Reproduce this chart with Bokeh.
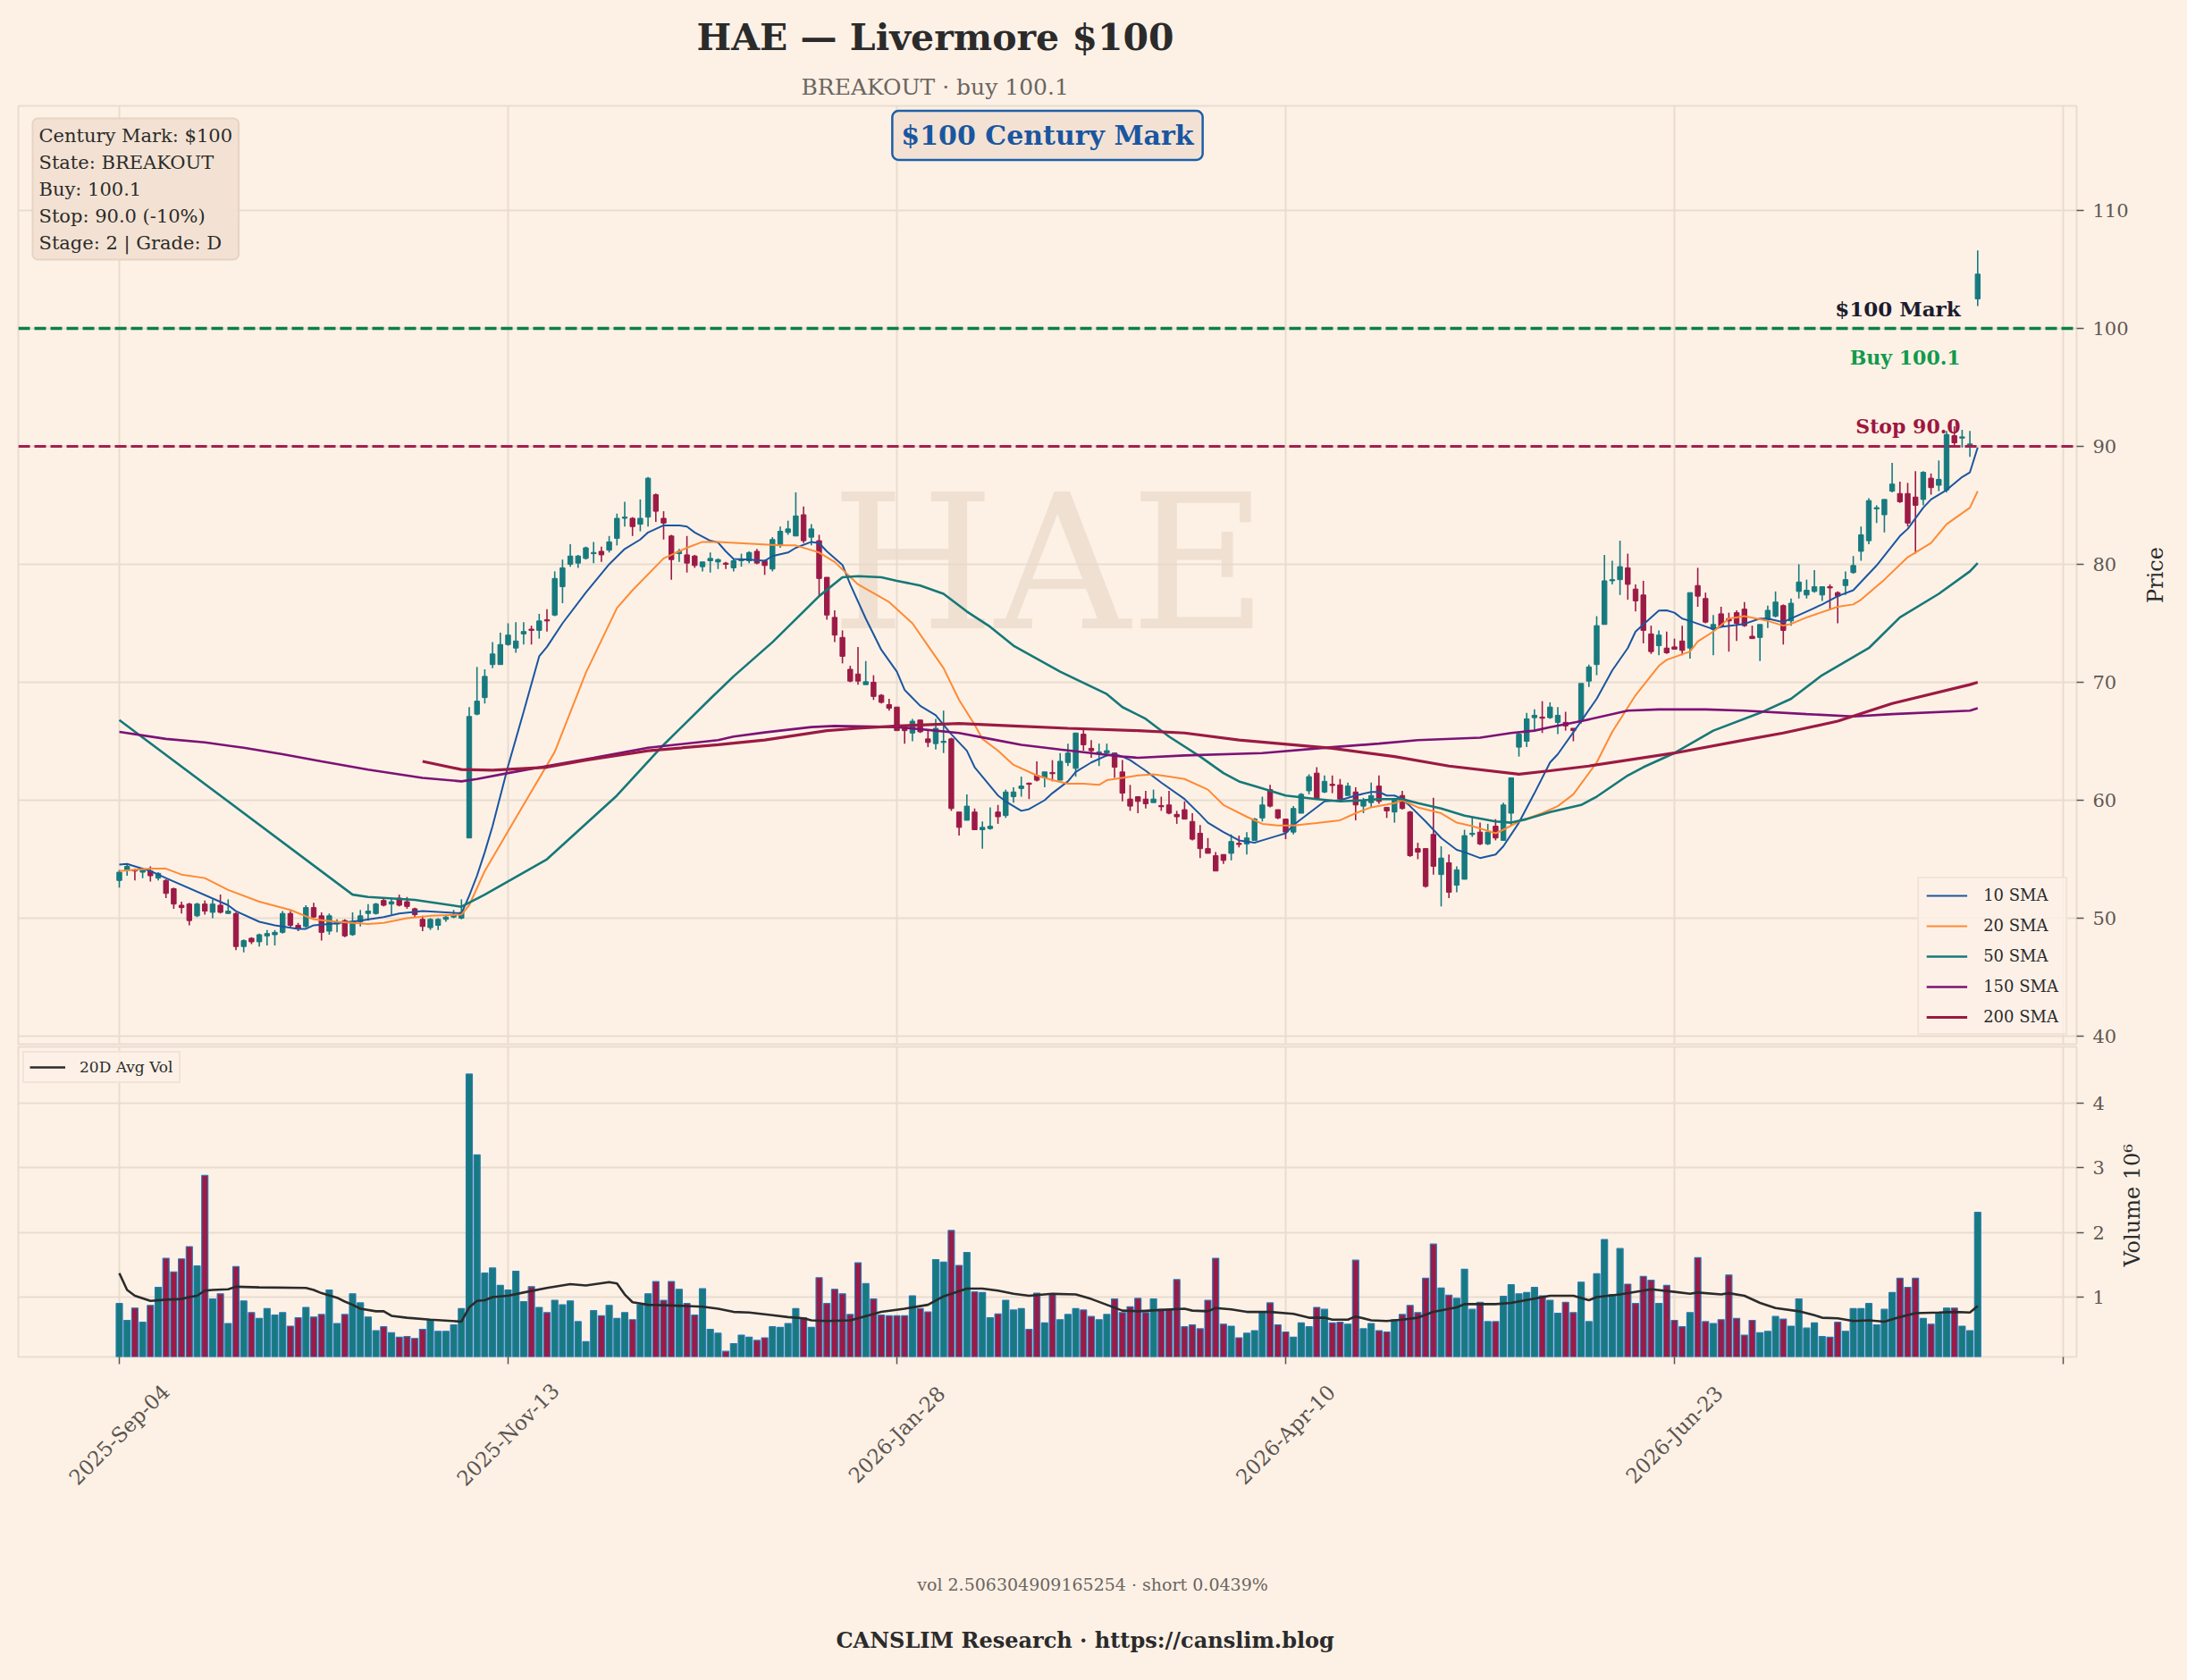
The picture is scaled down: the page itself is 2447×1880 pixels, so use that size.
import math
from bokeh.plotting import figure
from bokeh.models import (Range1d, FixedTicker, Grid, Legend, LegendItem, Label, Title,
                          ColumnDataSource, Span)
from bokeh.layouts import column, row
from bokeh.embed import file_html
from bokeh.resources import INLINE
from bokeh.core.properties import value

# ---------------- data ----------------
opens = [
    53.2, 54.1, 54.1, 53.9, 54.0, 53.4, 53.2, 52.5, 51.1, 51.2,
    50.2, 51.2, 50.5, 51.1, 50.4, 50.4, 47.6, 48.3, 48.0, 48.5,
    48.6, 48.8, 50.4, 49.4, 49.3, 50.9, 50.2, 48.9, 49.5, 49.8,
    48.6, 49.7, 50.4, 50.4, 51.5, 51.2, 51.7, 51.4, 50.8, 49.9,
    49.2, 49.4, 49.9, 50.1, 50.0, 56.8, 67.3, 68.7, 71.5, 71.5,
    73.2, 72.9, 74.1, 74.5, 74.4, 75.3, 75.7, 78.1, 80.0, 80.1,
    80.5, 80.9, 81.1, 81.2, 82.2, 83.9, 83.9, 83.4, 84.0, 85.9,
    83.9, 82.4, 80.9, 80.8, 80.7, 79.8, 80.3, 80.2, 80.1, 79.7,
    80.3, 80.3, 81.1, 80.3, 79.6, 81.6, 82.7, 82.4, 84.2, 82.3,
    82.0, 78.9, 75.5, 73.8, 71.1, 70.7, 69.8, 70.0, 68.9, 68.1,
    67.9, 66.3, 65.7, 66.8, 65.2, 64.8, 64.9, 65.2, 59.0, 58.3,
    59.0, 57.5, 57.6, 59.0, 58.7, 60.3, 61.0, 61.45, 62.1, 61.9,
    62.35, 61.7, 63.2, 62.7, 65.6, 64.4, 64.0, 64.0, 64.0, 62.4,
    60.1, 60.3, 60.1, 59.8, 59.55, 59.6, 58.8, 59.2, 58.2, 57.2,
    55.9, 55.3, 55.4, 55.5, 56.35, 56.3, 56.6, 58.5, 60.9, 59.2,
    58.4, 57.3, 58.9, 60.8, 62.3, 60.7, 61.35, 61.3, 60.4, 60.7,
    59.5, 59.8, 61.2, 59.4, 59.0, 60.4, 59.0, 55.9, 55.9, 57.1,
    53.7, 54.7, 52.8, 53.3, 57.1, 57.3, 56.3, 57.8, 56.6, 58.9,
    64.5, 65.0, 67.0, 67.05, 67.0, 66.6, 66.6, 66.1, 66.7, 70.1,
    71.5, 74.9, 78.6, 78.7, 79.7, 77.9, 77.4, 74.1, 73.1, 72.9,
    73.0, 73.5, 72.9, 78.2, 77.1, 74.5, 75.8, 75.4, 75.9, 76.2,
    73.9, 73.8, 75.3, 75.6, 76.5, 75.2, 77.7, 77.4, 77.7, 77.4,
    78.1, 77.6, 78.2, 79.3, 81.1, 82.0, 84.7, 84.2, 86.2, 86.0,
    86.0, 85.7, 85.5, 87.3, 86.7, 86.3, 90.9, 90.7, 90.0, 102.5,
]
closes = [
    53.9, 54.4, 54.0, 54.1, 53.6, 53.8, 52.1, 51.2, 50.9, 49.8,
    51.2, 50.6, 51.2, 50.5, 50.6, 47.6, 48.1, 48.0, 48.6, 48.7,
    48.8, 50.4, 49.4, 49.1, 50.9, 50.1, 48.8, 50.2, 49.7, 48.5,
    49.7, 50.2, 50.6, 51.2, 51.1, 51.4, 51.1, 51.0, 50.3, 49.3,
    49.9, 49.9, 50.1, 50.3, 50.5, 67.1, 68.4, 70.5, 72.4, 73.2,
    74.0, 73.5, 74.3, 74.4, 75.2, 75.2, 78.8, 79.7, 80.7, 80.7,
    81.4, 81.0, 80.8, 81.9, 83.9, 84.0, 83.2, 83.9, 87.3, 84.5,
    83.5, 80.4, 81.1, 80.1, 79.9, 80.2, 80.5, 80.4, 80.0, 80.3,
    80.4, 81.0, 80.1, 79.9, 82.1, 82.8, 83.0, 84.1, 82.0, 83.0,
    78.8, 75.7, 74.0, 72.2, 70.1, 70.1, 70.05, 68.8, 68.3, 67.8,
    65.9, 65.9, 66.7, 65.8, 64.9, 66.1, 65.0, 59.3, 57.7, 59.5,
    57.5, 57.7, 57.8, 58.6, 60.7, 60.7, 61.2, 61.35, 61.7, 62.4,
    62.25, 63.3, 64.0, 65.7, 64.7, 64.2, 64.1, 64.2, 62.8, 60.6,
    59.5, 59.9, 59.7, 60.1, 59.45, 58.9, 58.6, 58.4, 56.7, 55.9,
    55.5, 54.0, 54.9, 56.5, 56.25, 56.8, 58.4, 59.6, 59.5, 58.5,
    57.3, 59.3, 60.5, 62.0, 60.1, 61.6, 61.25, 60.1, 61.2, 59.6,
    60.0, 60.4, 59.9, 59.1, 60.0, 59.3, 55.3, 55.6, 52.7, 54.4,
    55.1, 52.2, 54.1, 57.0, 57.2, 56.3, 57.3, 56.8, 59.6, 61.9,
    65.6, 66.9, 67.2, 66.95, 67.9, 67.2, 66.3, 65.9, 69.9, 71.3,
    74.8, 78.6, 78.7, 79.8, 78.3, 76.9, 74.4, 72.6, 74.0, 72.5,
    72.8, 72.7, 77.6, 77.3, 75.1, 74.9, 74.7, 75.2, 75.0, 74.8,
    73.7, 74.9, 76.1, 76.8, 74.4, 76.7, 78.5, 77.8, 78.1, 78.1,
    78.0, 77.3, 78.7, 79.9, 82.5, 85.4, 84.8, 85.5, 86.8, 85.3,
    83.5, 85.0, 87.8, 86.5, 87.2, 91.0, 90.3, 90.8, 90.2, 104.6,
]
highs = [
    54.1, 54.5, 54.2, 54.2, 54.4, 53.9, 53.3, 52.6, 51.4, 51.3,
    51.3, 51.5, 51.6, 52.0, 51.6, 50.5, 48.2, 48.4, 48.7, 49.0,
    49.0, 50.6, 50.6, 49.6, 51.1, 51.3, 50.5, 50.4, 49.9, 49.9,
    50.5, 50.7, 51.2, 51.3, 51.7, 51.7, 52.0, 51.8, 50.9, 50.2,
    50.0, 50.0, 50.3, 50.7, 51.6, 67.9, 71.3, 71.1, 73.4, 74.2,
    75.0, 75.1, 75.1, 74.8, 75.8, 76.2, 79.4, 80.4, 81.7, 80.8,
    81.5, 81.9, 81.5, 82.4, 84.3, 85.3, 84.0, 85.5, 87.4, 86.0,
    84.5, 82.5, 81.3, 82.4, 80.8, 80.2, 81.0, 80.5, 80.2, 80.5,
    80.9, 81.1, 81.3, 80.4, 82.3, 83.2, 83.7, 86.1, 84.9, 83.4,
    82.5, 78.9, 76.1, 74.4, 71.4, 73.0, 71.8, 70.6, 69.0, 68.6,
    67.9, 66.3, 66.9, 66.8, 65.9, 66.9, 67.6, 65.3, 59.0, 60.5,
    59.3, 58.2, 59.4, 59.6, 60.9, 61.1, 62.0, 61.5, 63.3, 62.4,
    63.4, 64.0, 64.8, 65.7, 66.1, 65.1, 64.8, 64.8, 64.0, 63.4,
    61.3, 60.3, 60.8, 60.9, 60.3, 60.8, 59.1, 59.9, 58.9, 57.9,
    56.8, 55.6, 55.4, 57.1, 57.0, 57.3, 58.5, 60.3, 61.3, 59.2,
    58.4, 59.5, 60.6, 62.2, 62.8, 62.1, 62.1, 61.8, 61.5, 61.1,
    60.2, 61.5, 62.1, 59.4, 60.2, 60.8, 59.1, 56.4, 55.9, 60.2,
    56.1, 55.4, 54.4, 57.5, 58.6, 58.1, 58.0, 58.4, 59.8, 61.9,
    65.8, 67.4, 67.7, 68.4, 68.3, 67.9, 67.5, 66.1, 69.9, 71.5,
    75.6, 80.8, 80.3, 82.0, 80.9, 78.3, 78.6, 74.8, 74.4, 74.3,
    73.7, 74.8, 77.6, 79.7, 77.6, 75.7, 76.4, 75.9, 76.1, 76.8,
    74.8, 74.9, 76.5, 77.7, 76.6, 77.1, 80.0, 78.7, 79.5, 78.1,
    78.3, 77.7, 79.4, 80.7, 83.2, 85.6, 85.0, 85.5, 88.6, 87.0,
    86.9, 87.9, 87.9, 87.7, 88.8, 91.3, 91.7, 91.4, 91.3, 106.6,
]
lows = [
    52.6, 53.6, 53.2, 53.4, 53.1, 53.2, 51.7, 50.8, 50.4, 49.4,
    50.1, 50.3, 50.0, 50.4, 50.4, 47.3, 47.1, 47.8, 47.6, 47.7,
    47.7, 48.7, 49.2, 48.9, 49.2, 50.0, 48.1, 48.6, 48.8, 48.4,
    48.5, 49.3, 49.8, 50.3, 51.0, 50.3, 51.0, 50.8, 50.1, 48.9,
    49.0, 49.0, 49.7, 50.0, 49.9, 56.8, 67.2, 68.2, 71.2, 71.5,
    73.1, 72.5, 73.2, 73.2, 73.7, 74.3, 75.6, 76.7, 79.8, 79.7,
    80.4, 80.1, 80.2, 81.0, 81.6, 83.2, 82.4, 82.8, 83.2, 83.6,
    82.1, 78.7, 80.2, 79.3, 79.7, 79.4, 79.3, 79.6, 79.6, 79.4,
    79.8, 80.1, 80.0, 79.1, 79.4, 81.4, 82.5, 82.4, 81.8, 81.6,
    77.3, 75.3, 73.4, 71.6, 70.0, 69.8, 69.8, 68.5, 68.2, 67.6,
    65.9, 64.8, 65.0, 65.7, 64.5, 64.3, 64.0, 59.1, 57.0, 58.3,
    57.5, 55.9, 57.5, 58.0, 58.5, 59.8, 60.3, 60.1, 61.6, 61.1,
    61.6, 61.7, 62.9, 62.0, 64.2, 63.6, 62.9, 63.7, 61.9, 59.9,
    59.1, 58.9, 59.3, 59.8, 59.1, 58.8, 58.0, 58.4, 56.6, 55.1,
    55.5, 54.0, 54.6, 54.9, 56.0, 55.4, 56.6, 58.2, 59.4, 58.4,
    56.7, 57.1, 58.9, 60.5, 60.1, 60.6, 60.6, 60.1, 60.4, 58.3,
    58.9, 59.4, 59.7, 58.5, 58.1, 59.2, 55.2, 55.0, 52.6, 53.7,
    51.0, 51.7, 52.2, 53.3, 56.9, 56.2, 56.2, 56.6, 56.6, 57.9,
    63.7, 64.5, 65.9, 65.7, 66.9, 65.6, 65.9, 65.0, 66.5, 69.6,
    70.6, 74.9, 78.3, 77.4, 77.0, 76.0, 73.3, 72.4, 72.3, 72.4,
    72.8, 72.3, 72.0, 76.4, 75.0, 72.3, 74.7, 72.6, 73.5, 74.7,
    73.7, 71.8, 74.6, 75.5, 73.2, 74.8, 77.1, 77.1, 77.6, 76.9,
    76.1, 75.0, 77.4, 79.2, 80.3, 81.7, 83.5, 82.7, 86.1, 85.2,
    83.2, 80.9, 85.0, 85.9, 86.2, 86.1, 90.0, 89.9, 89.1, 101.9,
]
# volume in millions of shares
volumes = [
    0.90, 0.64, 0.83, 0.61, 0.87, 1.15, 1.60, 1.39, 1.59, 1.78,
    1.48, 2.88, 0.97, 1.05, 0.59, 1.47, 0.94, 0.76, 0.67, 0.82,
    0.72, 0.76, 0.55, 0.68, 0.84, 0.69, 0.73, 1.11, 0.59, 0.73,
    1.05, 0.91, 0.69, 0.48, 0.54, 0.45, 0.38, 0.39, 0.36, 0.50,
    0.65, 0.47, 0.47, 0.57, 0.82, 4.45, 3.20, 1.37, 1.45, 1.18,
    1.11, 1.40, 0.93, 1.16, 0.84, 0.76, 0.95, 0.88, 0.94, 0.62,
    0.31, 0.79, 0.71, 0.87, 0.67, 0.76, 0.65, 0.88, 1.05, 1.24,
    0.95, 1.24, 1.12, 0.90, 0.72, 1.13, 0.50, 0.44, 0.16, 0.28,
    0.41, 0.38, 0.33, 0.37, 0.54, 0.53, 0.59, 0.82, 0.68, 0.53,
    1.30, 0.90, 1.12, 1.05, 0.73, 1.53, 1.21, 0.97, 0.72, 0.71,
    0.71, 0.71, 1.02, 0.82, 0.77, 1.58, 1.54, 2.03, 1.49, 1.69,
    1.08, 1.07, 0.68, 0.74, 0.95, 0.80, 0.82, 0.50, 1.06, 0.60,
    1.04, 0.65, 0.73, 0.82, 0.80, 0.70, 0.65, 0.73, 0.97, 0.76,
    0.85, 0.98, 0.76, 0.97, 0.81, 0.81, 1.27, 0.54, 0.57, 0.51,
    0.95, 1.60, 0.58, 0.55, 0.37, 0.44, 0.48, 0.76, 0.91, 0.57,
    0.46, 0.38, 0.60, 0.54, 0.84, 0.81, 0.60, 0.61, 0.58, 1.57,
    0.51, 0.59, 0.48, 0.46, 0.65, 0.73, 0.87, 0.76, 1.29, 1.82,
    1.14, 1.03, 0.98, 1.43, 0.81, 0.92, 0.62, 0.62, 1.01, 1.19,
    1.05, 1.07, 1.15, 1.02, 0.95, 0.75, 0.92, 0.76, 1.23, 0.62,
    1.36, 1.89, 1.04, 1.75, 1.20, 0.90, 1.32, 1.26, 0.90, 1.18,
    0.64, 0.54, 0.76, 1.61, 0.62, 0.59, 0.65, 1.34, 0.67, 0.41,
    0.64, 0.45, 0.47, 0.70, 0.66, 0.55, 0.97, 0.52, 0.60, 0.39,
    0.38, 0.61, 0.47, 0.82, 0.82, 0.90, 0.57, 0.81, 1.07, 1.29,
    1.15, 1.29, 0.67, 0.58, 0.76, 0.83, 0.83, 0.55, 0.48, 2.31,
]

# moving averages (bar index, value)
sma10_idx = [0, 1, 2, 4, 6, 14, 15, 18, 20, 23, 24, 25, 27, 31, 34, 36, 39, 42, 44, 45,
             46, 47, 48, 50, 52, 54, 55, 57, 60, 63, 65, 67, 68, 70, 72, 73, 74, 76, 77, 78,
             79, 81, 83, 84, 86, 87, 89, 90, 91, 93, 94, 96, 98, 100, 101, 103, 105, 106, 107, 109,
             110, 113, 114, 116, 117, 119, 120, 122, 123, 125, 127, 128, 129, 130, 132, 134, 137, 139, 140, 142,
             144, 146, 147, 149, 150, 151, 153, 155, 157, 159, 161, 162, 163, 164, 165, 166, 168, 170, 172, 173,
             175, 177, 178, 180, 182, 184, 185, 188, 190, 192, 194, 195, 197, 198, 199, 200, 201, 202, 205, 206,
             209, 211, 212, 214, 215, 217, 219, 221, 223, 224, 226, 229, 230, 232, 233, 235, 237, 238, 239]
sma10_val = [54.55, 54.6, 54.4, 54.0, 53.4, 51.1, 50.6, 49.7, 49.4, 49.1, 49.1, 49.4, 49.5, 49.8, 50.1, 50.4, 50.6, 50.5, 50.4, 51.9,
             53.6, 55.6, 57.8, 62.9, 67.5, 72.2, 73.0, 75.0, 77.6, 80.0, 81.3, 82.1, 82.7, 83.3, 83.3, 83.2, 82.7, 82.0, 81.85, 81.1,
             80.45, 80.4, 80.3, 80.7, 81.0, 81.4, 81.9, 81.8, 81.1, 79.95, 78.3, 75.4, 72.75, 70.9, 69.35, 68.0, 67.2, 66.4, 65.6, 64.2,
             62.8, 60.4, 59.9, 59.1, 59.25, 60.0, 60.6, 61.6, 62.4, 63.2, 63.8, 63.9, 63.7, 63.4, 62.5, 61.5, 60.1, 58.8, 58.1, 57.3,
             56.6, 56.4, 56.6, 57.0, 57.2, 57.9, 58.9, 59.9, 60.0, 60.4, 60.7, 60.7, 60.4, 60.4, 60.1, 59.5, 58.2, 56.8, 55.8, 55.6,
             55.1, 55.4, 56.1, 58.1, 60.6, 63.2, 63.9, 66.7, 68.6, 71.0, 72.9, 74.3, 75.5, 76.07, 76.1, 75.9, 75.4, 75.2, 74.5, 74.7,
             74.95, 75.4, 75.4, 75.1, 75.4, 76.0, 76.6, 77.3, 77.8, 78.5, 79.9, 82.4, 83.0, 84.8, 85.5, 86.3, 87.4, 87.8, 89.9]
sma20_idx = [0, 4, 6, 8, 11, 14, 18, 22, 25, 28, 32, 34, 37, 40, 44, 45, 47, 51, 56, 60,
             64, 66, 70, 73, 75, 77, 85, 87, 89, 90, 92, 95, 99, 102, 104, 106, 108, 110, 111, 113,
             115, 118, 120, 122, 124, 126, 127, 128, 131, 133, 135, 137, 140, 142, 145, 147, 149, 151, 154, 157,
             159, 161, 164, 165, 167, 170, 172, 174, 176, 177, 178, 180, 183, 185, 187, 190, 192, 195, 198, 199,
             202, 203, 205, 207, 209, 212, 214, 215, 217, 221, 223, 224, 227, 230, 233, 235, 238, 239]
sma20_val = [54.0, 54.2, 54.2, 53.7, 53.4, 52.4, 51.4, 50.7, 49.9, 49.7, 49.5, 49.6, 50.0, 50.2, 50.3, 51.1, 54.0, 58.5, 64.1, 70.8,
             76.3, 77.8, 80.5, 81.4, 81.9, 81.9, 81.6, 81.6, 81.2, 81.0, 80.2, 78.3, 76.8, 75.0, 73.1, 71.2, 68.5, 66.4, 65.2, 64.2,
             63.0, 62.1, 61.7, 61.4, 61.4, 61.3, 61.7, 61.8, 62.1, 62.2, 62.0, 61.8, 60.9, 59.6, 58.6, 58.0, 57.86, 57.86, 58.06, 58.3,
             58.9, 59.4, 59.75, 60.0, 59.4, 58.9, 58.1, 57.8, 57.4, 57.2, 57.5, 58.2, 58.9, 59.5, 60.5, 63.2, 65.8, 68.9, 71.4, 71.9,
             72.6, 73.45, 74.3, 75.4, 75.6, 75.2, 74.8, 74.95, 75.5, 76.4, 76.6, 77.0, 78.7, 80.6, 81.8, 83.4, 84.8, 86.2]
sma50_idx = [0, 30, 32, 38, 44, 47, 55, 58, 64, 70, 76, 79, 84, 90, 93, 95, 98, 100, 103, 106,
             109, 112, 115, 121, 127, 129, 132, 135, 139, 142, 144, 147, 150, 154, 157, 160, 162, 165, 167, 170,
             173, 177, 179, 181, 184, 188, 190, 194, 196, 200, 205, 211, 215, 219, 225, 229, 234, 238, 239]
sma50_val = [66.8, 52.0, 51.8, 51.55, 50.97, 52.0, 55.0, 56.8, 60.4, 64.7, 68.6, 70.5, 73.4, 77.3, 78.9, 79.0, 78.9, 78.6, 78.2, 77.5,
             76.0, 74.7, 73.1, 70.9, 69.0, 67.9, 66.9, 65.4, 63.7, 62.3, 61.6, 61.0, 60.4, 60.1, 59.9, 60.0, 60.1, 60.1, 59.75, 59.3,
             58.7, 58.2, 58.1, 58.4, 59.0, 59.6, 60.3, 62.1, 62.8, 64.0, 65.9, 67.4, 68.6, 70.6, 72.9, 75.5, 77.5, 79.4, 80.1]
sma150_idx = [0, 6, 11, 16, 21, 26, 32, 39, 44, 46, 50, 55, 61, 68, 77, 79, 83, 89, 92, 100,
              105, 108, 112, 116, 121, 125, 129, 131, 137, 147, 156, 162, 167, 175, 179, 182, 184, 188, 194, 198,
              204, 209, 217, 223, 228, 238, 239]
sma150_val = [65.8, 65.2, 64.9, 64.45, 63.9, 63.3, 62.6, 61.9, 61.6, 61.8, 62.3, 62.9, 63.6, 64.45, 65.1, 65.4, 65.75, 66.2, 66.3, 66.2,
              65.9, 65.7, 65.2, 64.7, 64.3, 64.0, 63.7, 63.6, 63.8, 64.0, 64.5, 64.8, 65.1, 65.3, 65.7, 65.9, 66.2, 66.7, 67.6, 67.7,
              67.7, 67.6, 67.3, 67.1, 67.3, 67.6, 67.8]
sma200_idx = [39, 44, 48, 55, 60, 68, 77, 83, 91, 95, 100, 108, 115, 122, 131, 137, 144, 156, 164, 171,
              180, 184, 189, 200, 209, 214, 221, 228, 238, 239]
sma200_val = [63.3, 62.6, 62.55, 62.8, 63.4, 64.2, 64.7, 65.1, 65.9, 66.1, 66.3, 66.5, 66.3, 66.1, 65.9, 65.7, 65.1, 64.4, 63.7, 62.9,
              62.2, 62.5, 62.9, 64.0, 65.1, 65.7, 66.7, 68.2, 69.8, 70.0]
avgvol_idx = [0, 1, 2, 4, 6, 8, 9, 10, 11, 12, 14, 15, 18, 24, 25, 26, 28, 29, 30, 31,
              33, 34, 35, 37, 40, 44, 45, 46, 47, 48, 50, 52, 55, 58, 60, 63, 64, 65, 66, 68,
              71, 73, 75, 77, 79, 81, 84, 86, 88, 89, 91, 94, 95, 98, 101, 104, 106, 109, 111, 113,
              115, 117, 119, 120, 123, 125, 127, 129, 131, 134, 137, 138, 140, 141, 143, 145, 148, 151, 153, 155,
              156, 158, 159, 161, 163, 165, 167, 169, 172, 173, 177, 179, 184, 187, 189, 190, 193, 196, 197, 200,
              202, 203, 206, 207, 209, 211, 213, 216, 218, 219, 221, 223, 225, 227, 229, 231, 234, 236, 238, 239]
avgvol_val = [1.37, 1.11, 1.02, 0.94, 0.96, 0.97, 1.00, 1.02, 1.10, 1.11, 1.12, 1.16, 1.15, 1.14, 1.11, 1.06, 0.99, 0.93, 0.88, 0.82,
              0.78, 0.78, 0.71, 0.68, 0.65, 0.62, 0.84, 0.94, 0.95, 1.00, 1.02, 1.07, 1.14, 1.20, 1.18, 1.23, 1.21, 1.04, 0.92, 0.88,
              0.87, 0.86, 0.85, 0.82, 0.77, 0.76, 0.72, 0.69, 0.67, 0.64, 0.63, 0.64, 0.67, 0.77, 0.82, 0.88, 1.01, 1.13, 1.13, 1.10,
              1.05, 1.02, 1.04, 1.05, 1.04, 0.97, 0.88, 0.79, 0.78, 0.80, 0.82, 0.79, 0.78, 0.83, 0.81, 0.77, 0.77, 0.74, 0.68, 0.68,
              0.65, 0.65, 0.70, 0.64, 0.63, 0.65, 0.68, 0.77, 0.84, 0.89, 0.89, 0.91, 1.02, 1.02, 0.95, 1.00, 1.04, 1.10, 1.12, 1.08,
              1.05, 1.07, 1.04, 1.06, 1.02, 0.91, 0.83, 0.78, 0.72, 0.68, 0.67, 0.63, 0.64, 0.62, 0.69, 0.75, 0.76, 0.77, 0.76, 0.86]

tick_idx = [0, 50, 100, 150, 200, 250]
tick_labels = ["2025-Sep-04", "2025-Nov-13", "2026-Jan-28", "2026-Apr-10", "2026-Jun-23"]
price_ticks = [40, 50, 60, 70, 80, 90, 100, 110]
vol_ticks = [1, 2, 3, 4]

ticker = "HAE"
century = 100
buy_price = 100.1
stop_price = 90.0
info_lines = ["Century Mark: $100", "State: BREAKOUT", "Buy: 100.1", "Stop: 90.0 (-10%)", "Stage: 2 | Grade: D"]
footer_stats = "vol 2.506304909165254 · short 0.0439%"
footer_brand = "CANSLIM Research  ·  https://canslim.blog"

# ---------------- styling ----------------
BG = "#fdf1e6"
GRID = "#e9dccf"
TEAL = "#177a7e"
RED = "#9c1a46"
VOL_EDGE = "#2a7ab5"
FONT = "DejaVu Serif"
TICK_C = "#5f5852"
DARK = "#2b2b2b"

TOTAL_W = 2439
B_LEFT = 20
FRAME_W = 2303
PX_PER_BAR = 8.7
X0_PX = 113.0  # pixels from frame left to bar 0
x_start = -X0_PX / PX_PER_BAR
xr = Range1d(x_start, x_start + FRAME_W / PX_PER_BAR)

N = len(closes)
idx = list(range(N))
colors = [TEAL if c >= o else RED for o, c in zip(opens, closes)]
src = ColumnDataSource(dict(
    x=idx, o=opens, h=highs, l=lows, c=closes,
    top=[max(o, c) for o, c in zip(opens, closes)],
    bot=[min(o, c) for o, c in zip(opens, closes)],
    color=colors, vol=volumes,
))


def style_axis(ax, size="21px"):
    ax.axis_line_color = None
    ax.major_tick_out = 8
    ax.major_tick_in = 0
    ax.minor_tick_out = 0
    ax.minor_tick_in = 0
    ax.major_tick_line_color = "#555555"
    ax.major_tick_line_width = 1.5
    ax.major_label_text_font = FONT
    ax.major_label_text_font_size = size
    ax.major_label_text_color = TICK_C


def side_title(width, height, yr, text, x):
    """narrow strip to the right of a panel holding its rotated axis title (frame aligned with the panel)"""
    s = figure(width=width, height=height, x_range=Range1d(0, width), y_range=yr,
               output_backend="svg", toolbar_location=None, title=None,
               x_axis_location=None, y_axis_location=None,
               min_border_left=0, min_border_right=0, min_border_top=0, min_border_bottom=0,
               background_fill_color=BG, border_fill_color=BG, outline_line_color=None)
    s.grid.visible = False
    s.text(x=[x], y=[(yr.start + yr.end) / 2], text=[text], angle=math.pi / 2, text_align="center",
           text_baseline="middle", text_font=value(FONT), text_font_size="24px", text_color=DARK)
    return s


# ---------------- price panel ----------------
P_TOP = 118
P_FRAME_H = 1050
PH = P_TOP + P_FRAME_H + 2
P_W = 2390
pyr = Range1d(39.32, 118.86)
p = figure(width=P_W, height=PH, x_range=xr, y_range=pyr,
           output_backend="svg", toolbar_location=None, title=None,
           x_axis_location=None, y_axis_location="right",
           min_border_left=B_LEFT, min_border_right=P_W - B_LEFT - FRAME_W, min_border_top=P_TOP,
           min_border_bottom=2, background_fill_color=BG, border_fill_color=BG,
           outline_line_color=GRID, outline_line_width=2)
p.ygrid.grid_line_color = GRID
p.ygrid.grid_line_width = 2
p.yaxis.ticker = FixedTicker(ticks=price_ticks)
style_axis(p.yaxis[0])
p.yaxis.major_label_standoff = 10
p.add_layout(Grid(dimension=0, ticker=FixedTicker(ticks=tick_idx), grid_line_color=GRID, grid_line_width=2))

# watermark
p.add_layout(Label(x=FRAME_W / 2 + 2, y=538, x_units="screen", y_units="screen", text=ticker,
                   text_font=FONT, text_font_size="210px", text_color="#e9d9cb", text_alpha=0.75,
                   text_align="center", text_baseline="middle", level="underlay"))

p.add_layout(Title(text="BREAKOUT · buy 100.1", text_font=FONT, text_font_size="25px",
                   text_font_style="normal", text_color="#6b6560", align="left", offset=876,
                   standoff=13), "above")
p.add_layout(Title(text="HAE — Livermore $100", text_font=FONT, text_font_size="41px",
                   text_font_style="bold", text_color=DARK, align="left", offset=759,
                   standoff=18), "above")

# candles
p.segment(x0="x", y0="l", x1="x", y1="h", line_color="color", line_width=1.6, source=src)
p.vbar(x="x", width=0.62, top="top", bottom="bot", fill_color="color", line_color="color",
       line_width=1, source=src)

r10 = p.line(sma10_idx, sma10_val, line_color="#1a56a0", line_width=2)
r20 = p.line(sma20_idx, sma20_val, line_color="#ff8a33", line_width=2)
r50 = p.line(sma50_idx, sma50_val, line_color="#167878", line_width=2.6)
r150 = p.line(sma150_idx, sma150_val, line_color="#7c1275", line_width=2.6)
r200 = p.line(sma200_idx, sma200_val, line_color="#9b1a42", line_width=3.2)

p.add_layout(Span(location=century, dimension="width", line_color="#0b8043", line_width=3.5, line_dash="13 5"))
p.add_layout(Span(location=stop_price, dimension="width", line_color="#a3214c", line_width=2.8, line_dash="13 5"))

lx = N - 1 - 2.2
p.text(x=[lx], y=[century + 1.7], text=["$100 Mark"], text_font=value(FONT), text_font_size="23px",
       text_font_style="bold", text_color="#1c1c2e", text_align="right", text_baseline="alphabetic")
p.text(x=[lx], y=[century - 2.45], text=["Buy 100.1"], text_font=value(FONT), text_font_size="22px",
       text_font_style="bold", text_color="#119a4c", text_align="right", text_baseline="alphabetic")
p.text(x=[lx], y=[stop_price + 1.7], text=["Stop 90.0"], text_font=value(FONT), text_font_size="22px",
       text_font_style="bold", text_color="#9e1640", text_align="right", text_baseline="alphabetic")

p.add_layout(Label(x=FRAME_W / 2, y=1017, x_units="screen", y_units="screen", text="$100 Century Mark",
                   text_font=FONT, text_font_size="30px", text_font_style="bold", text_color="#1a56a0",
                   text_align="center", text_baseline="middle", background_fill_color="#f3e2d4",
                   border_line_color="#1f5fa8", border_line_width=2.5, padding=10, border_radius=7))

p.add_layout(Label(x=16, y=P_FRAME_H - 14, x_units="screen", y_units="screen", text="\n".join(info_lines),
                   text_font=FONT, text_font_size="21px", text_color=DARK, text_align="left",
                   text_baseline="top", text_line_height=1.25, background_fill_color="#f2e0d2",
                   background_fill_alpha=0.95, border_line_color="#e6d3c4", border_line_width=2,
                   padding=7, border_radius=6))

leg = Legend(items=[LegendItem(label="10 SMA", renderers=[r10]), LegendItem(label="20 SMA", renderers=[r20]),
                    LegendItem(label="50 SMA", renderers=[r50]), LegendItem(label="150 SMA", renderers=[r150]),
                    LegendItem(label="200 SMA", renderers=[r200])],
             location="bottom_right", margin=10, padding=8, spacing=13, glyph_width=46, glyph_height=20,
             label_standoff=18, label_text_font=FONT, label_text_font_size="18px", label_text_color=DARK,
             background_fill_color=BG, background_fill_alpha=0.85, border_line_color="#e6d6c8",
             border_line_width=2)
p.add_layout(leg)

ps = side_title(TOTAL_W - P_W, PH, pyr, "Price", 21)

# ---------------- volume panel ----------------
V_FRAME_H = 347
VH = 1 + V_FRAME_H + 10
V_W = 2365
vyr = Range1d(0.073, 4.87)
v = figure(width=V_W, height=VH, x_range=xr, y_range=vyr,
           output_backend="svg", toolbar_location=None, title=None,
           x_axis_location="below", y_axis_location="right",
           min_border_left=B_LEFT, min_border_right=V_W - B_LEFT - FRAME_W, min_border_top=1,
           min_border_bottom=10, background_fill_color=BG, border_fill_color=BG,
           outline_line_color=GRID, outline_line_width=2)
v.grid.grid_line_color = GRID
v.grid.grid_line_width = 2
v.xaxis.ticker = FixedTicker(ticks=tick_idx)
v.xaxis.major_label_overrides = {t: "" for t in tick_idx}
style_axis(v.xaxis[0], size="2px")
v.xaxis.major_label_standoff = 0
v.yaxis.ticker = FixedTicker(ticks=vol_ticks)
style_axis(v.yaxis[0])
v.yaxis.major_label_standoff = 10

v.vbar(x="x", width=0.8, top="vol", bottom=0, fill_color="color", line_color=VOL_EDGE,
       line_width=1.2, source=src)
ravg = v.line(avgvol_idx, avgvol_val, line_color="#2b2b2b", line_width=2.6)
vleg = Legend(items=[LegendItem(label="20D Avg Vol", renderers=[ravg])], location="top_left",
              margin=5, padding=6, glyph_width=40, glyph_height=18, label_standoff=16,
              label_text_font=FONT, label_text_font_size="17px", label_text_color=DARK,
              background_fill_color=BG, background_fill_alpha=0.85, border_line_color="#e6d6c8",
              border_line_width=2)
v.add_layout(vleg)

vs = side_title(TOTAL_W - V_W, VH, vyr, "Volume  10⁶", 20)

# ---------------- footer: date labels and notes ----------------
FH = 1872 - PH - VH
f = figure(width=TOTAL_W, height=FH, x_range=xr, y_range=Range1d(0, FH),
           output_backend="svg", toolbar_location=None, title=None,
           x_axis_location=None, y_axis_location=None,
           min_border_left=B_LEFT, min_border_right=TOTAL_W - B_LEFT - FRAME_W, min_border_top=0,
           min_border_bottom=0, background_fill_color=BG, border_fill_color=BG, outline_line_color=None)
f.grid.visible = False
f.text(x=tick_idx[:len(tick_labels)], y=[FH - 77] * len(tick_labels), text=tick_labels,
       angle=math.pi / 4, text_align="center", text_baseline="middle",
       text_font=value(FONT), text_font_size="23px", text_color="#5a5550")
foot_x = x_start + (1222 - B_LEFT) / PX_PER_BAR
f.text(x=[foot_x], y=[FH - 244], text=[footer_stats], text_align="center", text_baseline="alphabetic",
       text_font=value(FONT), text_font_size="19px", text_color="#6b6560")
f.text(x=[foot_x], y=[FH - 307], text=[footer_brand], text_align="center", text_baseline="alphabetic",
       text_font=value(FONT), text_font_size="24px", text_font_style="bold", text_color=DARK)

layout = column(row(p, ps, spacing=0), row(v, vs, spacing=0), f, spacing=0)
layout.styles = {"background-color": BG}
html = file_html(layout, INLINE, title="HAE — Livermore $100")
html = html.replace("<body>", '<body style="background-color:%s;">' % BG)
open("out.html", "w").write(html)
